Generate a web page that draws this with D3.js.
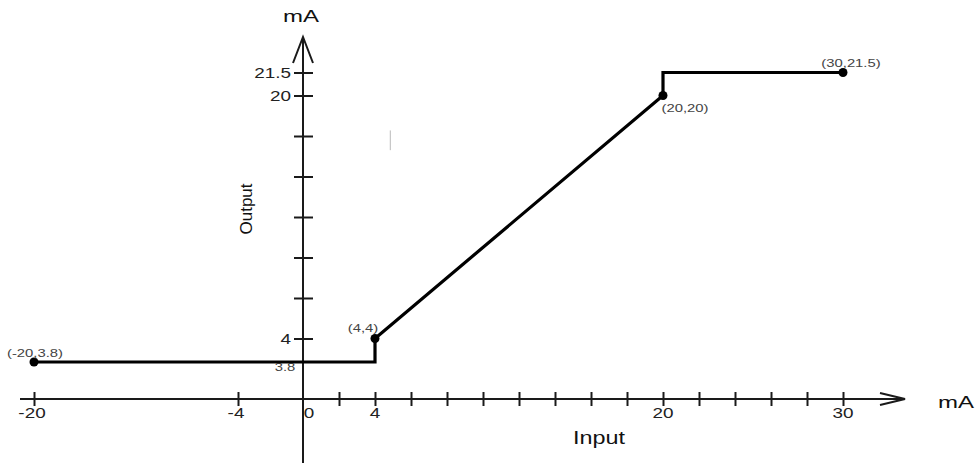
<!DOCTYPE html>
<html>
<head>
<meta charset="utf-8">
<script src="https://cdn.jsdelivr.net/npm/d3@7"></script>
<style>
  html, body { margin: 0; padding: 0; background: #fff; }
  svg { display: block; }
  text { font-family: "Liberation Sans", Arial, sans-serif; }
</style>
</head>
<body>
<svg id="chart" width="976" height="463"></svg>
<script>
// ---- data ----
const inputValues  = [-20, 4, 4, 20, 20, 30];
const outputValues = [3.8, 3.8, 4, 20, 21.5, 21.5];
const markedPoints = [[-20, 3.8], [4, 4], [20, 20], [30, 21.5]];
const pointLabels  = ["(-20,3.8)", "(4,4)", "(20,20)", "(30,21.5)"];
const xTickValues  = [-20, -4, 2, 4, 6, 8, 10, 12, 14, 16, 18, 20, 22, 24, 26, 28, 30];
const xTickLabels  = ["-20", "-4", "0", "4", "20", "30"];
const xLabelValues = [-20, -4, 0, 4, 20, 30];
const yTickValues  = [4, 6.667, 9.333, 12, 14.667, 17.333, 20, 21.5];
const yTickLabels  = ["4", "20", "21.5"];
const yLabelValues = [4, 20, 21.5];

// ---- scales (schematic, piecewise) ----
const x = d3.scaleLinear().domain([-20, -4, 0, 30]).range([34, 238, 303, 843]);
const y = d3.scaleLinear().domain([0, 3.8, 4, 20, 21.5]).range([399, 362, 338.5, 95.5, 72.5]);

const svg = d3.select("#chart");
const SX = 1.35; // horizontal stretch of the original drawing's text
const axisColor = "#1a1a1a";

function stretchedText(g, tx, ty, txt, opts) {
  return g.append("text")
    .attr("transform", `translate(${tx},${ty}) scale(${opts.sx || SX},1)`)
    .attr("text-anchor", opts.anchor || "middle")
    .attr("font-size", opts.size)
    .attr("fill", opts.fill || "#111")
    .text(txt);
}

// ---- axes lines ----
const x0 = x(0), y0 = y(0);
svg.append("line").attr("x1", 20).attr("x2", 905).attr("y1", y0).attr("y2", y0)
  .attr("stroke", axisColor).attr("stroke-width", 2);
svg.append("line").attr("x1", x0).attr("x2", x0).attr("y1", 37).attr("y2", 463)
  .attr("stroke", axisColor).attr("stroke-width", 2);

// arrow heads (open)
svg.append("path").attr("d", `M${x0 - 10},63 L${x0},37 L${x0 + 10},63`)
  .attr("fill", "none").attr("stroke", axisColor).attr("stroke-width", 2);
svg.append("path").attr("d", `M880,${y0 - 6} L905,${y0} L880,${y0 + 6}`)
  .attr("fill", "none").attr("stroke", axisColor).attr("stroke-width", 2);

// ---- x ticks via d3 axis ----
const xAxisG = svg.append("g").attr("transform", `translate(0,${y0})`)
  .call(d3.axisBottom(x).tickValues(xTickValues).tickSize(6).tickFormat(""));
xAxisG.select(".domain").remove();
xAxisG.selectAll(".tick line").attr("y1", -7).attr("y2", 7)
  .attr("stroke", axisColor).attr("stroke-width", 2);

// ---- y ticks via d3 axis ----
const yAxisG = svg.append("g").attr("transform", `translate(${x0},0)`)
  .call(d3.axisLeft(y).tickValues(yTickValues).tickSize(6).tickFormat(""));
yAxisG.select(".domain").remove();
yAxisG.selectAll(".tick line").attr("x1", -9).attr("x2", 10)
  .attr("stroke", axisColor).attr("stroke-width", 2);

// tick labels
xLabelValues.forEach((v, i) => {
  const dx = v === 0 ? 6 : (v < 0 ? -2 : 0);
  stretchedText(svg, x(v) + dx, 418, xTickLabels[i], { size: 14, fill: "#222" });
});
yLabelValues.forEach((v, i) => {
  stretchedText(svg, x0 - 12, y(v) + 5, yTickLabels[i], { size: 14, anchor: "end", fill: "#222" });
});
stretchedText(svg, x0 - 18, y(3.8) + 9, "3.8", { size: 11, fill: "#444" });

// ---- axis titles ----
stretchedText(svg, x0 - 2, 22, "mA", { size: 16, sx: 1.5 });
stretchedText(svg, 956, 408, "mA", { size: 16, sx: 1.5, anchor: "middle" });
stretchedText(svg, 599, 444, "Input", { size: 18, sx: 1.3 });
svg.append("text")
  .attr("transform", `translate(252,209) rotate(-90)`)
  .attr("text-anchor", "middle").attr("font-size", 17).attr("fill", "#111")
  .text("Output");

// ---- data line ----
const pts = inputValues.map((v, i) => [v, outputValues[i]]);
svg.append("path").datum(pts)
  .attr("d", d3.line().x(d => x(d[0])).y(d => y(d[1])))
  .attr("fill", "none").attr("stroke", "#000").attr("stroke-width", 3.2)
  .attr("stroke-linejoin", "miter");

svg.selectAll("circle.pt").data(markedPoints).enter().append("circle")
  .attr("class", "pt")
  .attr("cx", d => x(d[0])).attr("cy", d => y(d[1])).attr("r", 4.5)
  .attr("fill", "#000");

// point labels
const labelOffsets = [[1, -5], [-12, -7], [22, 16], [8, -6]];
markedPoints.forEach((p, i) => {
  stretchedText(svg, x(p[0]) + labelOffsets[i][0], y(p[1]) + labelOffsets[i][1],
    pointLabels[i], { size: 11, fill: "#444" });
});

// faint stray mark present in the original
svg.append("line")
  .attr("x1", x(4.85)).attr("x2", x(4.85)).attr("y1", y(17.7)).attr("y2", y(16.4))
  .attr("stroke", "#bbb").attr("stroke-width", 1);
</script>
</body>
</html>
